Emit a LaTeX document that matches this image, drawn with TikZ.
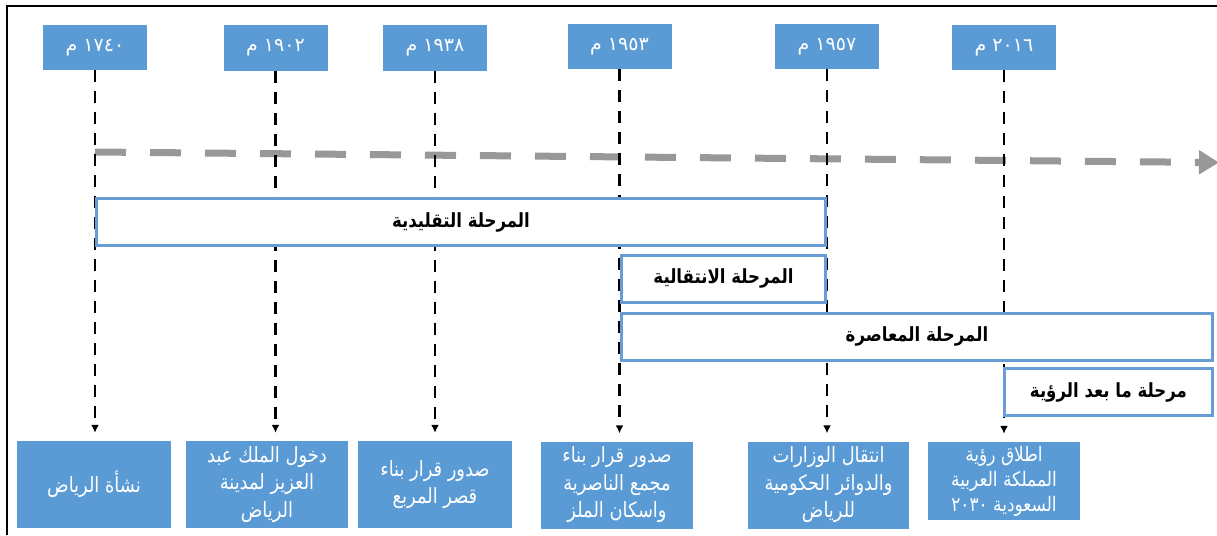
\documentclass[tikz,border=0pt]{standalone}
\usepackage{fontspec}
\usetikzlibrary{arrows.meta}
\TeXXeTstate=1
\newfontfamily\arabicfont[Script=Arabic]{DejaVu Sans}
\newfontfamily\arabicnarrow[Script=Arabic, FakeStretch=0.85]{DejaVu Sans}
% one right-to-left line, and a number kept left-to-right inside it
\newcommand\artext[1]{\beginR #1\endR}
\newcommand\arnum[1]{\beginL #1\endL{}}

\definecolor{boxblue}{RGB}{91,155,213}
\definecolor{edgeblue}{RGB}{103,157,212}
\definecolor{axisgray}{RGB}{152,152,152}

\tikzset{
  yearbox/.style={fill=boxblue, inner sep=0pt, minimum width=104pt, minimum height=45pt,
    text=white, font=\arabicfont\fontsize{19}{21}\selectfont},
  eventbox/.style={fill=boxblue, inner sep=0pt, minimum height=87pt, align=center,
    text=white, font=\arabicnarrow\fontsize{21}{27.5}\selectfont},
  phasebox/.style={draw=edgeblue, line width=3pt, fill=white, inner sep=0pt,
    minimum height=47pt, font=\arabicnarrow\bfseries\fontsize{19.5}{22}\selectfont},
  guide/.style={line width=2.8pt, dash pattern=on 12pt off 9pt,
    -{Latex[length=8pt,width=8pt]}, shorten >=8pt},
  axis/.style={axisgray, line width=7pt, dash pattern=on 31pt off 24pt,
    -{Triangle[length=20pt,width=23pt]}},
  frameline/.style={line width=1.5pt}
}

\begin{document}
\begin{tikzpicture}[x=1pt,y=-1pt]
\useasboundingbox (0,0) rectangle (1217,535);

% frame
\coordinate (fa) at (7,535);
\coordinate (fb) at (7,6);
\coordinate (fc) at (1217,6);
\draw[frameline] (fa) -- (fb) -- (fc);

% years
\node[yearbox] (y1) at (95,47.5)   {\artext{\arnum{١٧٤٠} م}};
\node[yearbox] (y2) at (275.5,48)  {\artext{\arnum{١٩٠٢} م}};
\node[yearbox] (y3) at (435,48)    {\artext{\arnum{١٩٣٨} م}};
\node[yearbox] (y4) at (619.5,46.5){\artext{\arnum{١٩٥٣} م}};
\node[yearbox] (y5) at (827,46.5)  {\artext{\arnum{١٩٥٧} م}};
\node[yearbox] (y6) at (1004,47.5) {\artext{\arnum{٢٠١٦} م}};

% events
\node[eventbox, minimum width=154pt] (e1) at (94,484.5)  {\artext{نشأة الرياض}};
\node[eventbox, minimum width=162pt] (e2) at (267,484.5)
  {\artext{دخول الملك عبد}\\\artext{العزيز لمدينة}\\\artext{الرياض}};
\node[eventbox, minimum width=154pt] (e3) at (435,484.5)
  {\artext{صدور قرار بناء}\\\artext{قصر المربع}};
\node[eventbox, minimum width=152pt] (e4) at (617,485)
  {\artext{صدور قرار بناء}\\\artext{مجمع الناصرية}\\\artext{واسكان الملز}};
\node[eventbox, minimum width=161pt] (e5) at (828.5,485)
  {\artext{انتقال الوزارات}\\\artext{والدوائر الحكومية}\\\artext{للرياض}};
\node[eventbox, minimum width=152pt, minimum height=78pt,
      font=\arabicnarrow\fontsize{20}{25}\selectfont] (e6) at (1004,481)
  {\artext{اطلاق رؤية}\\\artext{المملكة العربية}\\\artext{السعودية \arnum{٢٠٣٠}}};

% time axis
\coordinate (axisstart) at (95,152);
\coordinate (axisend) at (1219,162.5);
\draw[axis] (axisstart) -- (axisend);

% guides from each year to its event
\foreach \i in {1,...,6}
  \draw[guide] (y\i.south) -- (y\i.south |- e\i.north);

% phases
\node[phasebox, minimum width=729pt] (trad) at (461,222)
  {\artext{المرحلة التقليدية}};
\node[phasebox, minimum width=204pt] (trans) at (723.5,278.5)
  {\artext{المرحلة الانتقالية}};
\node[phasebox, minimum width=591pt] (modern) at (917,336.5)
  {\artext{المرحلة المعاصرة}};
\node[phasebox, minimum width=208pt] (vision) at (1108.5,392)
  {\artext{مرحلة ما بعد الرؤية}};
\end{tikzpicture}
\end{document}
